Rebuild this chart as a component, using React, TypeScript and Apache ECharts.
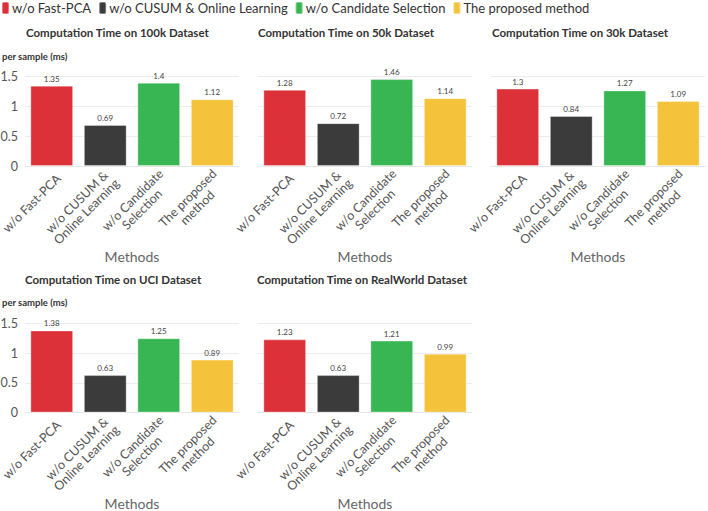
import React, { useEffect, useRef } from "react";
import * as echarts from "echarts";

// Ablation methods (legend + x categories)
const methods = [
  "w/o Fast-PCA",
  "w/o CUSUM & Online Learning",
  "w/o Candidate Selection",
  "The proposed method",
];
// Wrapped x-axis labels
const methodLabels = [
  "w/o Fast-PCA",
  "w/o CUSUM &\nOnline Learning",
  "w/o Candidate\nSelection",
  "The proposed\nmethod",
];
const methodColors = ["#dc3139", "#3b3b3b", "#38b653", "#f4c23b"];

const datasets = ["100k", "50k", "30k", "UCI", "RealWorld"];

// Computation time per sample (ms), one value per method
const time100k = [1.35, 0.69, 1.4, 1.12];
const time50k = [1.28, 0.72, 1.46, 1.14];
const time30k = [1.3, 0.84, 1.27, 1.09];
const timeUCI = [1.38, 0.63, 1.25, 0.89];
const timeRealWorld = [1.23, 0.63, 1.21, 0.99];
const panelValues = [time100k, time50k, time30k, timeUCI, timeRealWorld];

const yTicks = { min: 0, max: 1.5, interval: 0.5 };

// Panel placement (px)
const panels = [
  { left: 25, top: 76.7, title: { left: 26, top: 26 } },
  { left: 258, top: 76.7, title: { left: 258, top: 26 } },
  { left: 491, top: 76.7, title: { left: 492, top: 26 } },
  { left: 25, top: 323.3, title: { left: 25, top: 273 } },
  { left: 258, top: 323.3, title: { left: 257, top: 273 } },
];
const PANEL_W = 214;
const PANEL_H = 89.3;
const FONT = "Lato, 'Open Sans', sans-serif";
const LABEL_SIZE = 12.5;
// Rotated labels run a little past their tick
const LABEL_OVERHANG = 20;

// Widest line of each wrapped category label, so lines can be centred
function labelWidths(): number[] {
  const ctx = document.createElement("canvas").getContext("2d");
  return methodLabels.map((lbl) => {
    const lines = lbl.split("\n");
    if (!ctx) return Math.max(...lines.map((l) => l.length * 6.5));
    ctx.font = `${LABEL_SIZE}px Lato`;
    return Math.ceil(Math.max(...lines.map((l) => ctx.measureText(l).width)));
  });
}

export default function App() {
  const ref = useRef<HTMLDivElement>(null);

  useEffect(() => {
    if (!ref.current) return;
    const chart = echarts.init(ref.current, undefined, { renderer: "svg" });

    const widths = labelWidths();
    const rich: Record<string, any> = {};
    widths.forEach((w, k) => {
      rich[`c${k}`] = {
        width: Math.max(4, w - LABEL_OVERHANG),
        align: "center",
        fontFamily: FONT,
        fontSize: LABEL_SIZE,
        lineHeight: 13.5,
        color: "#555",
      };
    });

    const grids: any[] = [];
    const xAxes: any[] = [];
    const yAxes: any[] = [];
    const series: any[] = [];
    const titles: any[] = [];

    panels.forEach((p, i) => {
      const showY = i === 0 || i === 3;
      grids.push({
        left: p.left,
        top: p.top,
        width: PANEL_W,
        height: PANEL_H,
        containLabel: false,
        outerBoundsMode: "none",
      });
      titles.push({
        text: `Computation Time on ${datasets[i]} Dataset`,
        left: p.title.left,
        top: p.title.top,
        padding: 0,
        textStyle: { fontFamily: FONT, fontSize: 11.5, fontWeight: "bold", color: "#333" },
      });
      xAxes.push({
        type: "category",
        gridIndex: i,
        data: methodLabels,
        name: "Methods",
        nameLocation: "middle",
        nameGap: 80,
        nameTextStyle: { fontFamily: FONT, fontSize: 14, color: "#666" },
        axisLine: { lineStyle: { color: "#e6e6e6" } },
        axisTick: { alignWithLabel: true, length: 4, lineStyle: { color: "#dddddd" } },
        axisLabel: {
          rotate: 45,
          interval: 0,
          margin: 17,
          fontFamily: FONT,
          fontSize: LABEL_SIZE,
          color: "#555",
          formatter: (value: string, idx: number) =>
            value
              .split("\n")
              .map((line) => `{c${idx}|${line}}`)
              .join("\n"),
          rich,
        },
      });
      yAxes.push({
        type: "value",
        gridIndex: i,
        min: yTicks.min,
        max: yTicks.max,
        interval: yTicks.interval,
        axisLine: { show: false },
        axisTick: { show: false },
        axisLabel: {
          show: showY,
          margin: 7,
          fontFamily: FONT,
          fontSize: 12.5,
          color: "#555",
        },
        splitLine: { lineStyle: { color: "#ececec" } },
      });
      methods.forEach((m, k) => {
        series.push({
          type: "bar",
          name: m,
          xAxisIndex: i,
          yAxisIndex: i,
          stack: `panel${i}`,
          barWidth: "80%",
          data: panelValues[i].map((v, j) => (j === k ? v : "-")),
          itemStyle: {
            color: methodColors[k],
            borderColor: "rgba(255,255,255,0.35)",
            borderWidth: 1,
          },
          label: {
            show: true,
            position: "top",
            distance: 3,
            fontFamily: FONT,
            fontSize: 8,
            color: "#444",
          },
        });
      });
    });

    // y-axis captions for each row
    [51, 297].forEach((top) =>
      titles.push({
        text: "per sample (ms)",
        left: 2,
        top,
        padding: 0,
        textStyle: { fontFamily: FONT, fontSize: 9.5, fontWeight: "bold", color: "#333" },
      })
    );

    chart.setOption({
      animation: false,
      backgroundColor: "#ffffff",
      title: titles,
      legend: {
        data: methods,
        left: 1,
        top: 1,
        padding: 0,
        icon: "roundRect",
        itemWidth: 7,
        itemHeight: 12,
        itemGap: 7,
        textStyle: { fontFamily: FONT, fontSize: 13, color: "#333", padding: [0, 0, 0, -2] },
      },
      grid: grids,
      xAxis: xAxes,
      yAxis: yAxes,
      series,
    });

    return () => chart.dispose();
  }, []);

  return (
    <div
      ref={ref}
      style={{ position: "fixed", left: 0, top: 0, width: 708, height: 511 }}
    />
  );
}
